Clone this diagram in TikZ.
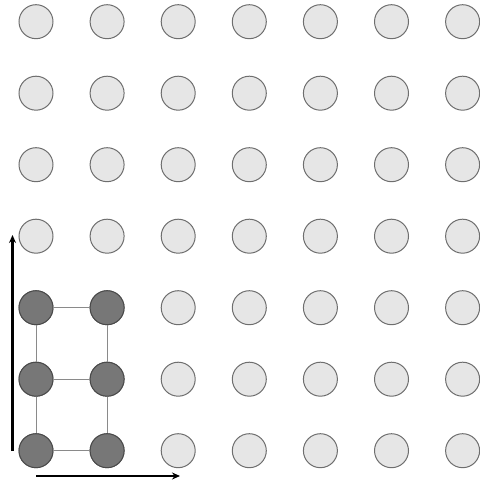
\documentclass[tikz,border=0pt]{standalone}
\usetikzlibrary{arrows.meta}
\definecolor{lightfill}{HTML}{E6E6E6}
\definecolor{lightdraw}{HTML}{6E6E6E}
\definecolor{darkfill}{HTML}{777777}
\definecolor{darkdraw}{HTML}{4A4A4A}
\definecolor{linkgray}{HTML}{8A8A8A}
\begin{document}
\begin{tikzpicture}[x=1pt,y=-1pt,
  site/.style={circle,minimum size=34pt,inner sep=0pt,fill=lightfill,draw=lightdraw,line width=1pt},
  occ/.style={site,fill=darkfill,draw=darkdraw},
  link/.style={draw=linkgray,line width=1pt},
  axis/.style={draw=black,line width=2.5pt,-{Stealth[length=8pt,width=7pt]}}]
\useasboundingbox (0,0) rectangle (479,481);
\foreach \i in {0,...,6}{
  \foreach \j in {0,...,6}{
    \pgfmathsetmacro{\xx}{36+71.1*\i}
    \pgfmathsetmacro{\yy}{21.7+71.5*\j}
    \node[site] (c-\i-\j) at (\xx,\yy) {};
  }
}
\foreach \i in {0,1}{
  \foreach \j in {4,5,6}{
    \node[occ] at (c-\i-\j) {};
  }
}
\begin{scope}[on background layer/.style={}]
\end{scope}
\foreach \j in {4,5,6}{
  \draw[link] (c-0-\j) -- (c-1-\j);
}
\foreach \i in {0,1}{
  \draw[link] (c-\i-4) -- (c-\i-5);
  \draw[link] (c-\i-5) -- (c-\i-6);
}
\coordinate (vs) at (12.5,451);
\coordinate (ve) at (12.5,235);
\coordinate (hs) at (36,476);
\coordinate (he) at (180,476);
\draw[axis] (vs) -- (ve);
\draw[axis] (hs) -- (he);
\end{tikzpicture}
\end{document}
